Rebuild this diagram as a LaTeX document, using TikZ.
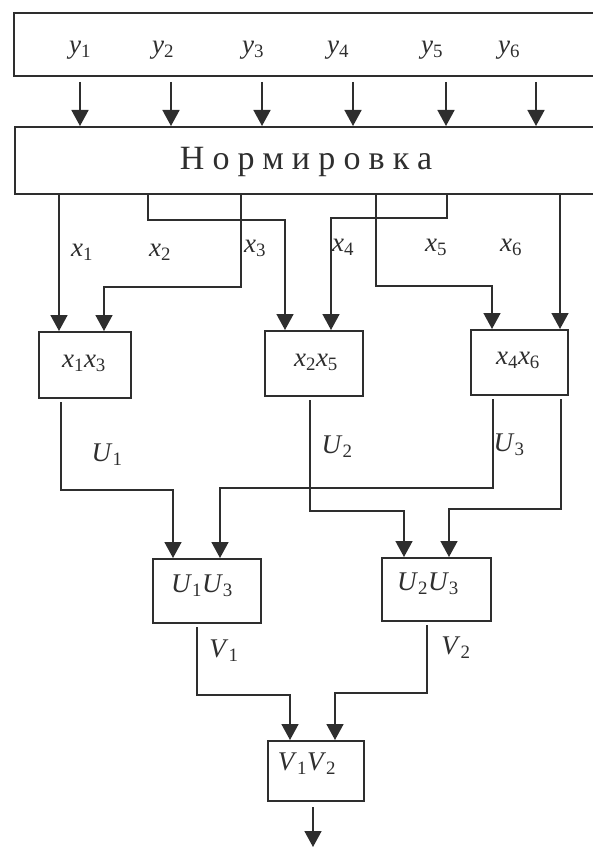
\documentclass[tikz,border=0pt]{standalone}
\usepackage{fontspec}
\setmainfont{Liberation Serif}
\usetikzlibrary{arrows.meta}
\newcommand\vv[2]{\textit{#1}\textsubscript{#2}}
\definecolor{ink}{gray}{0.18}
\tikzset{
  box/.style={draw=ink, line width=1.7pt, inner sep=0pt, anchor=north west},
  lbl/.style={inner sep=0pt, text=ink, font=\fontsize{27}{30}\selectfont},
  arr/.style={draw=ink, line width=1.6pt, -{Triangle[width=17pt,length=16pt]}},
}
\begin{document}
\begin{tikzpicture}[x=1pt,y=-1pt]
\useasboundingbox (0,0) rectangle (593,848);
\clip (0,0) rectangle (593,848);
% boxes
\node[box, minimum width=590pt, minimum height=63pt] (inp) at (13,12) {};
\node[box, minimum width=590pt, minimum height=67pt] (norm) at (14,126) {};
\node[lbl, font=\fontsize{34}{38}\selectfont\addfontfeature{LetterSpace=24}] (normt) at (306,162) {Нормировка};
\node[box, minimum width=92pt, minimum height=66pt] (b13) at (38,331) {};
\node[box, minimum width=98pt, minimum height=65pt] (b25) at (264,330) {};
\node[box, minimum width=97pt, minimum height=65pt] (b46) at (470,329) {};
\node[box, minimum width=108pt, minimum height=64pt] (c13) at (152,558) {};
\node[box, minimum width=109pt, minimum height=63pt] (c23) at (381,557) {};
\node[box, minimum width=96pt, minimum height=60pt] (d12) at (267,740) {};
% box labels
\node[lbl] (t13) at (84,363) {\vv{x}{1}\vv{x}{3}};
\node[lbl] (t25) at (316,362) {\vv{x}{2}\vv{x}{5}};
\node[lbl] (t46) at (518,360) {\vv{x}{4}\vv{x}{6}};
\node[lbl] (tc13) at (202,586) {\vv{U}{1}\vv{U}{3}};
\node[lbl] (tc23) at (428,584) {\vv{U}{2}\vv{U}{3}};
\node[lbl] (td12) at (307,764) {\vv{V}{1}\vv{V}{2}};
% y labels
\node[lbl] (y1) at (80,50) {\vv{y}{1}};
\node[lbl] (y2) at (163,50) {\vv{y}{2}};
\node[lbl] (y3) at (253,50) {\vv{y}{3}};
\node[lbl] (y4) at (338,50) {\vv{y}{4}};
\node[lbl] (y5) at (432,50) {\vv{y}{5}};
\node[lbl] (y6) at (509,50) {\vv{y}{6}};
% y arrows
\foreach \i/\xx in {1/80,2/171,3/262,4/353,5/446,6/536}{
  \coordinate (ya\i) at (\xx,82);
  \draw[arr] (ya\i) -- (norm.north -| ya\i);
}
% x columns
\coordinate (X1) at (59,0);
\coordinate (X2) at (148,0);  \coordinate (X2e) at (285,0);
\coordinate (X3) at (241,0);  \coordinate (X3e) at (104,0);
\coordinate (X4) at (376,0);  \coordinate (X4e) at (492,0);
\coordinate (X5) at (447,0);  \coordinate (X5e) at (331,0);
\coordinate (X6) at (560,0);
\draw[arr] (norm.south -| X1) -- (b13.north -| X1);
\draw[arr] (norm.south -| X2) -- ++(0,25) -| (b25.north -| X2e);
\draw[arr] (norm.south -| X3) -- ++(0,92) -| (b13.north -| X3e);
\draw[arr] (norm.south -| X4) -- ++(0,91) -| (b46.north -| X4e);
\draw[arr] (norm.south -| X5) -- ++(0,23) -| (b25.north -| X5e);
\draw[arr] (norm.south -| X6) -- (b46.north -| X6);
% x labels
\node[lbl] (x1) at (82,252) {\vv{x}{1}};
\node[lbl] (x2) at (160,252) {\vv{x}{2}};
\node[lbl] (x3) at (255,248) {\vv{x}{3}};
\node[lbl] (x4) at (343,247) {\vv{x}{4}};
\node[lbl] (x5) at (436,247) {\vv{x}{5}};
\node[lbl] (x6) at (511,247) {\vv{x}{6}};
% U connectors
\coordinate (u1s) at (61,402);  \coordinate (u1e) at (173,0);
\coordinate (u3s) at (493,399); \coordinate (u3e) at (220,0);
\coordinate (u2s) at (310,400); \coordinate (u2e) at (404,0);
\coordinate (u4s) at (561,399); \coordinate (u4e) at (449,0);
\draw[arr] (u1s) -- ++(0,88) -| (c13.north -| u1e);
\draw[arr] (u3s) -- ++(0,89) -| (c13.north -| u3e);
\draw[arr] (u2s) -- ++(0,111) -| (c23.north -| u2e);
\draw[arr] (u4s) -- ++(0,110) -| (c23.north -| u4e);
\node[lbl] (U1) at (107,455) {\vv{U}{1}};
\node[lbl] (U2) at (337,447) {\vv{U}{2}};
\node[lbl] (U3) at (509,445) {\vv{U}{3}};
% V connectors
\coordinate (v1s) at (197,627); \coordinate (v1e) at (290,0);
\coordinate (v2s) at (427,625); \coordinate (v2e) at (335,0);
\draw[arr] (v1s) -- ++(0,68) -| (d12.north -| v1e);
\draw[arr] (v2s) -- ++(0,68) -| (d12.north -| v2e);
\node[lbl] (V1) at (224,651) {\vv{V}{1}};
\node[lbl] (V2) at (456,648) {\vv{V}{2}};
% output
\coordinate (outs) at (313,807);
\coordinate (oute) at (313,847);
\draw[arr] (outs) -- (oute);
\end{tikzpicture}
\end{document}
